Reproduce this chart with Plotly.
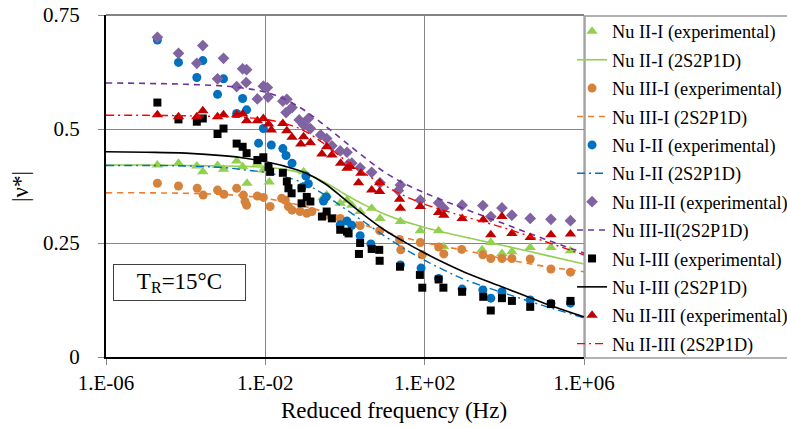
import numpy as np
import plotly.graph_objects as go

# ---------------- data (log10 of reduced frequency in Hz, |nu*|) ----------------
model_logf = [-6, -5, -4, -3, -2.5, -2, -1.5, -1, -0.5, 0, 0.5, 1, 1.5, 2, 2.5, 3, 4, 5, 6]

nu21_model = [0.421, 0.421, 0.420, 0.419, 0.418, 0.416, 0.411, 0.402, 0.383, 0.357, 0.333,
              0.313, 0.297, 0.284, 0.273, 0.263, 0.244, 0.224, 0.204]
nu31_model = [0.360, 0.360, 0.359, 0.356, 0.353, 0.348, 0.340, 0.330, 0.318, 0.305, 0.289,
              0.275, 0.262, 0.251, 0.242, 0.234, 0.215, 0.199, 0.187]
nu12_model = [0.420, 0.420, 0.419, 0.415, 0.410, 0.405, 0.395, 0.380, 0.355, 0.325, 0.295,
              0.265, 0.237, 0.212, 0.190, 0.170, 0.140, 0.112, 0.086]
nu32_model = [0.601, 0.600, 0.598, 0.594, 0.589, 0.581, 0.565, 0.540, 0.507, 0.472, 0.437,
              0.405, 0.380, 0.360, 0.342, 0.325, 0.292, 0.259, 0.228]
nu13_model = [0.450, 0.449, 0.447, 0.441, 0.436, 0.428, 0.418, 0.404, 0.380, 0.345, 0.310,
              0.278, 0.252, 0.228, 0.206, 0.186, 0.152, 0.118, 0.088]
nu23_model = [0.530, 0.530, 0.529, 0.527, 0.525, 0.521, 0.512, 0.495, 0.466, 0.432, 0.402,
              0.376, 0.353, 0.335, 0.321, 0.308, 0.283, 0.254, 0.224]

nu21_logf = [-4.71, -4.18, -3.72, -3.57, -3.20, -3.05, -2.72, -2.57, -2.46, -2.20, -2.05, -1.90,
             -1.04, -0.55, -0.46, -0.12, 0.05, 0.17, 0.38, 0.67, 0.88, 1.39, 1.89, 2.35, 2.48,
             3.44, 3.66, 3.94, 4.19, 4.65, 5.17, 5.66]
nu21_exp = [0.421, 0.425, 0.419, 0.406, 0.420, 0.412, 0.430, 0.417, 0.381, 0.425, 0.410, 0.384,
            0.406, 0.349, 0.355, 0.337, 0.344, 0.333, 0.319, 0.326, 0.304, 0.297, 0.277, 0.277, 0.242,
            0.235, 0.251, 0.227, 0.231, 0.240, 0.240, 0.233]

nu31_logf = [-4.71, -4.18, -3.71, -3.56, -3.20, -3.04, -2.72, -2.55, -2.51, -2.47, -2.20, -2.05,
             -1.88, -1.59, -1.50, -1.42, -1.33, -1.13, -0.96, -0.83, -0.50, -0.12, 0.38, 0.87,
             1.37, 1.40, 1.89, 1.94, 2.35, 2.48, 2.93, 3.46, 3.66, 3.94, 4.19, 4.65, 5.17, 5.66]
nu31_exp = [0.381, 0.375, 0.370, 0.355, 0.366, 0.357, 0.370, 0.355, 0.341, 0.333, 0.353, 0.350,
            0.330, 0.348, 0.344, 0.330, 0.322, 0.319, 0.315, 0.319, 0.310, 0.304, 0.288, 0.277,
            0.257, 0.235, 0.251, 0.224, 0.241, 0.226, 0.236, 0.224, 0.216, 0.216, 0.216, 0.215,
            0.193, 0.186]

nu12_logf = [-4.71, -4.18, -3.72, -3.57, -3.20, -3.05, -2.72, -2.57, -2.47, -2.17, -2.05, -1.85,
             -1.56, -1.48, -1.33, -1.08, -0.98, -0.92, -0.54, -0.47, -0.12, 0.05, 0.17, 0.38,
             0.65, 1.39, 1.91, 2.35, 2.94, 3.46, 3.66, 3.94, 4.65, 5.17, 5.66]
nu12_exp = [0.695, 0.646, 0.613, 0.650, 0.576, 0.610, 0.534, 0.567, 0.542, 0.469, 0.501, 0.465,
            0.457, 0.442, 0.425, 0.372, 0.397, 0.380, 0.342, 0.351, 0.290, 0.298, 0.289, 0.266,
            0.248, 0.202, 0.195, 0.172, 0.149, 0.147, 0.129, 0.143, 0.125, 0.118, 0.118]

nu32_logf = [-4.71, -4.18, -3.72, -3.57, -3.20, -3.05, -2.72, -2.57, -2.47, -2.48, -2.20, -2.05,
             -1.95, -1.93, -1.56, -1.48, -1.46, -1.33, -1.15, -1.04, -0.92, -0.87, -0.61, -0.46,
             -0.33, -0.12, 0.05, 0.09, 0.17, 0.38, 0.67, 0.88, 1.34, 1.39, 1.89, 2.35, 2.48,
             2.94, 3.46, 3.66, 3.94, 4.19, 4.65, 5.17, 5.66]
nu32_exp = [0.701, 0.666, 0.644, 0.683, 0.610, 0.655, 0.593, 0.632, 0.630, 0.602, 0.566, 0.594,
            0.591, 0.570, 0.561, 0.536, 0.565, 0.547, 0.520, 0.509, 0.523, 0.501, 0.487, 0.479,
            0.463, 0.452, 0.449, 0.423, 0.425, 0.415, 0.405, 0.382, 0.365, 0.377, 0.344, 0.338,
            0.326, 0.333, 0.332, 0.308, 0.327, 0.311, 0.304, 0.302, 0.299]

nu13_logf = [-4.71, -4.18, -3.72, -3.57, -3.20, -3.05, -2.72, -2.57, -2.47, -2.20, -2.05, -1.92,
             -1.88, -1.56, -1.46, -1.42, -1.34, -1.09, -1.09, -0.96, -0.87, -0.58, -0.46, -0.33,
             -0.12, 0.05, 0.09, 0.38, 0.35, 0.67, 0.86, 0.87, 1.38, 1.88, 1.94, 2.35, 2.47,
             2.94, 3.47, 3.66, 3.94, 4.19, 4.65, 5.17, 5.66]
nu13_exp = [0.558, 0.521, 0.516, 0.523, 0.489, 0.501, 0.468, 0.461, 0.447, 0.432, 0.438, 0.417,
            0.406, 0.404, 0.385, 0.370, 0.359, 0.370, 0.337, 0.351, 0.341, 0.308, 0.319, 0.304,
            0.279, 0.275, 0.271, 0.250, 0.226, 0.237, 0.235, 0.211, 0.198, 0.180, 0.152, 0.170,
            0.152, 0.143, 0.132, 0.102, 0.129, 0.123, 0.110, 0.116, 0.123]

nu23_logf = [-4.71, -4.18, -3.72, -3.57, -3.20, -3.05, -2.72, -2.57, -2.47, -2.20, -2.05, -1.92,
             -1.85, -1.56, -1.46, -1.33, -1.11, -1.04, -0.87, -0.58, -0.46, -0.33, -0.11, 0.05,
             0.13, 0.40, 0.34, 0.67, 0.87, 0.87, 1.37, 1.39, 1.89, 2.35, 2.48, 2.94, 3.47, 3.66,
             3.94, 4.19, 4.65, 5.17, 5.66]
nu23_exp = [0.531, 0.527, 0.527, 0.540, 0.527, 0.531, 0.531, 0.533, 0.518, 0.518, 0.523, 0.511,
            0.498, 0.512, 0.496, 0.482, 0.467, 0.483, 0.470, 0.445, 0.461, 0.443, 0.425, 0.414,
            0.418, 0.403, 0.382, 0.366, 0.382, 0.363, 0.346, 0.326, 0.330, 0.317, 0.311, 0.304,
            0.301, 0.268, 0.308, 0.271, 0.262, 0.268, 0.270]

x_tickvals = [1e-6, 1e-2, 1e2, 1e6]
x_ticktext = ["1.E-06", "1.E-02", "1.E+02", "1.E+06"]
y_tickvals = [0, 0.25, 0.5, 0.75]
y_ticktext = ["0", "0.25", "0.5", "0.75"]

FONT = "Liberation Serif, Times New Roman, serif"


def hz(logs):
    return np.power(10.0, np.array(logs, dtype=float))


fig = go.Figure()

series = [
    ("Nu II-I (experimental)", nu21_logf, nu21_exp, dict(symbol="triangle-up", size=10, color="#92D050"),
     "Nu II-I (2S2P1D)", nu21_model, dict(color="#92D050", width=1.6, dash="solid")),
    ("Nu III-I (experimental)", nu31_logf, nu31_exp, dict(symbol="circle", size=9, color="#D4823C"),
     "Nu III-I (2S2P1D)", nu31_model, dict(color="#ED7D31", width=1.6, dash="6px,5px")),
    ("Nu I-II (experimental)", nu12_logf, nu12_exp, dict(symbol="circle", size=9, color="#0070C0"),
     "Nu I-II (2S2P1D)", nu12_model, dict(color="#0070C0", width=1.4, dash="8px,4px,2px,4px")),
    ("Nu III-II (experimental)", nu32_logf, nu32_exp, dict(symbol="diamond", size=9, color="#8064A2"),
     "Nu III-II(2S2P1D)", nu32_model, dict(color="#7030A0", width=1.6, dash="6px,5px")),
    ("Nu I-III (experimental)", nu13_logf, nu13_exp, dict(symbol="square", size=8, color="#000000"),
     "Nu I-III (2S2P1D)", nu13_model, dict(color="#000000", width=1.6, dash="solid")),
    ("Nu II-III (experimental)", nu23_logf, nu23_exp, dict(symbol="triangle-up", size=10, color="#C00000"),
     "Nu II-III (2S2P1D)", nu23_model, dict(color="#FF0000", width=1.4, dash="8px,4px,2px,4px")),
]

gi = 0
for exp_name, lx, vy, mk, mod_name, mod_vals, ln in series:
    fig.add_trace(go.Scatter(x=hz(lx), y=vy, mode="markers", name=exp_name,
                             legendgroup="g%d" % gi,
                             marker=dict(symbol=mk["symbol"], size=mk["size"], color=mk["color"],
                                         line=dict(width=0))))
    gi += 1
    fig.add_trace(go.Scatter(x=hz(model_logf), y=mod_vals, mode="lines", name=mod_name,
                             legendgroup="g%d" % gi,
                             line=dict(color=ln["color"], width=ln["width"], dash=ln["dash"],
                                       shape="spline")))
    gi += 1

fig.update_layout(
    width=787, height=428,
    margin=dict(l=106, r=203, t=15, b=71, autoexpand=False),
    paper_bgcolor="white", plot_bgcolor="white",
    font=dict(family=FONT, color="#000000"),
    showlegend=True,
    legend=dict(x=0.975, xanchor="left", y=1.006, yanchor="top",
                font=dict(family=FONT, size=18.3, color="#000000"),
                bgcolor="rgba(0,0,0,0)", borderwidth=0, itemwidth=30,
                traceorder="grouped", tracegroupgap=1.6, maxheight=428),
)

fig.update_xaxes(type="log", range=[-6, 6], tickvals=x_tickvals, ticktext=x_ticktext,
                 tickfont=dict(family=FONT, size=21, color="#000000"),
                 showgrid=True, gridcolor="#868686", gridwidth=1,
                 showline=True, linecolor="#000000", linewidth=2,
                 ticks="outside", ticklen=6, tickcolor="#868686", tickwidth=1,
                 zeroline=False)
fig.update_yaxes(range=[0, 0.75], tickvals=y_tickvals, ticktext=y_ticktext,
                 tickfont=dict(family=FONT, size=21, color="#000000"),
                 showgrid=True, gridcolor="#868686", gridwidth=1,
                 showline=True, linecolor="#000000", linewidth=2,
                 ticks="outside", ticklen=6, tickcolor="#868686", tickwidth=1,
                 ticklabelstandoff=14, zeroline=False)

# plot frame top and right edges (grey, like the gridlines)
fig.add_shape(type="line", xref="paper", yref="paper", x0=0, x1=1, y0=1, y1=1,
              line=dict(color="#5a5a5a", width=1.3), layer="below")
fig.add_shape(type="line", xref="paper", yref="paper", x0=1, x1=1, y0=0, y1=1,
              line=dict(color="#868686", width=1), layer="below")

# legend frame (border on the left edge of the legend area)
fig.add_shape(type="rect", xref="paper", yref="paper",
              x0=1.002, x1=1.6, y0=-0.003, y1=0.997,
              line=dict(color="#9a9a9a", width=1.5), fillcolor="rgba(0,0,0,0)", layer="below")

# axis titles
fig.add_annotation(text="Reduced frequency (Hz)", xref="paper", yref="paper",
                   x=(394 - 106) / 478, y=(357 - 410) / 342, xanchor="center", yanchor="middle",
                   showarrow=False, font=dict(family=FONT, size=23, color="#000000"))
fig.add_annotation(text="|ν*|", xref="paper", yref="paper",
                   x=(20 - 106) / 478, y=(357 - 187) / 342, xanchor="center", yanchor="middle",
                   textangle=-90, showarrow=False, font=dict(family=FONT, size=23, color="#000000"))

# temperature label box
fig.add_annotation(text="T<sub>R</sub>=15°C", xref="paper", yref="paper",
                   x=(179 - 106) / 478, y=(357 - 282) / 342, xanchor="center", yanchor="middle",
                   showarrow=False, font=dict(family=FONT, size=23, color="#000000"),
                   bordercolor="#404040", borderwidth=1, borderpad=2, width=127, height=31,
                   bgcolor="white")

# remove the default 8px page margin so the figure sits at the window's top-left corner
fig.write_html("out.html", config={"displayModeBar": False},
               post_script="document.body.style.margin='0';document.body.style.overflow='hidden';")
